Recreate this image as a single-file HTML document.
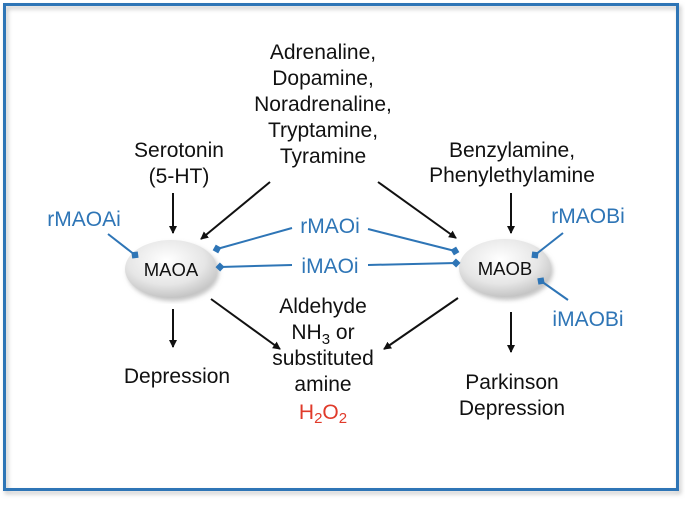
<!DOCTYPE html>
<html><head><style>
body{margin:0;width:685px;height:503px;background:#fff;overflow:hidden}
</style></head><body>
<svg width="685" height="503" viewBox="0 0 685 503" font-family="Liberation Sans, sans-serif">
<defs>
<radialGradient id="g" cx="0.45" cy="0.35" r="0.7">
<stop offset="0" stop-color="#ffffff"/><stop offset="0.6" stop-color="#e6e6e6"/><stop offset="1" stop-color="#bdbdbd"/>
</radialGradient>
<marker id="a" markerWidth="8" markerHeight="8" refX="7" refY="4" orient="auto" markerUnits="userSpaceOnUse"><path d="M0,0 L8,4 L0,8 z" fill="#111"/></marker>
<marker id="d" markerWidth="9" markerHeight="9" refX="4.5" refY="4.5" orient="auto" markerUnits="userSpaceOnUse"><path d="M0,4.5 L4.5,0 L9,4.5 L4.5,9 z" fill="#2e75b6"/></marker>
<filter id="s"><feDropShadow dx="2" dy="3" stdDeviation="2" flood-color="#888" flood-opacity="0.5"/></filter>
</defs>
<rect x="4.5" y="4.5" width="673" height="485" fill="none" stroke="#2e75b6" stroke-width="3" filter="url(#s)"/>
<g font-size="21" fill="#111" text-anchor="middle">
<text x="179" y="157">Serotonin</text><text x="179" y="183">(5-HT)</text>
<text x="323" y="59">Adrenaline,</text><text x="323" y="85">Dopamine,</text><text x="323" y="111">Noradrenaline,</text><text x="323" y="137">Tryptamine,</text><text x="323" y="163">Tyramine</text>
<text x="512" y="157">Benzylamine,</text><text x="512" y="182">Phenylethylamine</text>
<text x="177" y="383">Depression</text>
<text x="323" y="313">Aldehyde</text>
<text x="323" y="339">NH<tspan font-size="15" dy="5">3</tspan><tspan dy="-5"> or</tspan></text>
<text x="323" y="365">substituted</text><text x="323" y="391">amine</text>
<text x="323" y="419" fill="#e03a2a">H<tspan font-size="15" dy="4">2</tspan><tspan dy="-4">O</tspan><tspan font-size="15" dy="4">2</tspan></text>
<text x="512" y="389">Parkinson</text><text x="512" y="415">Depression</text>
</g>
<g font-size="21" fill="#2e75b6" text-anchor="middle">
<text x="84" y="226">rMAOAi</text>
<text x="330" y="233">rMAOi</text>
<text x="330" y="273">iMAOi</text>
<text x="588" y="223">rMAOBi</text>
<text x="588" y="326">iMAOBi</text>
</g>
<g stroke="#111" stroke-width="2" marker-end="url(#a)">
<line x1="173" y1="193" x2="173" y2="233"/>
<line x1="270" y1="182" x2="201" y2="239"/>
<line x1="378" y1="182" x2="456" y2="238"/>
<line x1="511" y1="193" x2="511" y2="233"/>
<line x1="173" y1="309" x2="173" y2="347"/>
<line x1="211" y1="299" x2="280" y2="349"/>
<line x1="458" y1="298" x2="384" y2="349"/>
<line x1="511" y1="312" x2="511" y2="352"/>
</g>
<g filter="url(#s)">
<ellipse cx="171" cy="269" rx="46" ry="29" fill="url(#g)"/>
<ellipse cx="505" cy="268" rx="46" ry="29" fill="url(#g)"/>
</g>
<g stroke="#2e75b6" stroke-width="2" marker-end="url(#d)">
<line x1="108" y1="234" x2="135" y2="255"/>
<line x1="292" y1="228" x2="217" y2="249"/>
<line x1="292" y1="265" x2="220" y2="267"/>
<line x1="368" y1="229" x2="455" y2="251"/>
<line x1="368" y1="265" x2="456" y2="263"/>
<line x1="563" y1="233" x2="535" y2="255"/>
<line x1="568" y1="300" x2="541" y2="281"/>
</g>
<g font-size="18.5" fill="#111" text-anchor="middle">
<text x="171" y="276">MAOA</text><text x="505" y="275">MAOB</text>
</g>
</svg>
</body></html>
